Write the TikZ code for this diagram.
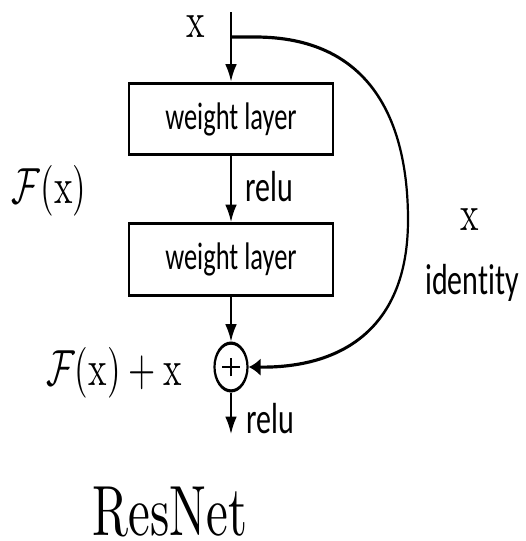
\documentclass[tikz,border=0pt]{standalone}
\usepackage{graphicx}
\usepackage{fontspec}
\setmainfont{lmroman10-regular}[Extension=.otf, BoldFont=lmroman10-bold]
\newfontfamily\sansfnt{Carlito}[Ligatures=NoCommon]
\DeclareFontShape{OMS}{cmsy}{m}{n}{<->cmsy10}{}
\usetikzlibrary{arrows.meta}
\newcommand{\vstretch}[1]{\scalebox{1}[1.45]{#1}}
\tikzset{
  box/.style={draw, line width=2.2pt, minimum width=204pt, minimum height=49.5pt, inner sep=0pt, font=\sansfnt\fontsize{26.5}{29}\selectfont},
  arr/.style={line width=2.2pt, -{Latex[length=12pt,width=12pt]}},
  sumnode/.style={draw, circle, line width=2.2pt, minimum size=33pt, inner sep=0pt},
  serif/.style={inner sep=0pt, font=\fontsize{35}{40}\selectfont},
  sanslab/.style={inner sep=0pt, font=\sansfnt\fontsize{30}{33}\selectfont},
  titlelab/.style={inner sep=0pt, font=\fontsize{49}{52}\selectfont}
}
\begin{document}
\begin{tikzpicture}[x=1pt,y=-1pt]
\useasboundingbox[fill=white] (0,0) rectangle (525,541);
\begin{scope}[transform canvas={yscale=1.45}, y={(0pt,-0.68966pt)}]
  \coordinate (in) at (231,12);
  \coordinate (br) at (231,37);
  \coordinate (brh) at (255,37);
  \node[box] (w1) at (231,119) {weight layer};
  \node[box] (w2) at (231,259.5) {weight layer};
  \node[sumnode] (sum) at (231,367) {};
  \coordinate (out) at (231,434);
  \draw[arr] (in) -- (w1);
  \draw[arr] (w1) -- (w2);
  \draw[arr] (w2) -- (sum);
  \draw[arr] (sum) -- (out);
  \draw[line width=2pt] ([xshift=-9pt]sum.center) -- ([xshift=9pt]sum.center)
        ([yshift=-6.5pt]sum.center) -- ([yshift=6.5pt]sum.center);
  \draw[arr] (br) -- (brh) .. controls (370,37) and (408,120) .. (408,220)
        .. controls (408,330) and (340,368) .. (sum.east);
\end{scope}
\node[serif] (xin) at (196,27) {\vstretch{x}};
\node[serif] (fx) at (49,191) {\vstretch{$\mathcal{F}$(x)}};
\node[serif] (fxx) at (114,373) {\vstretch{$\mathcal{F}$(x)\hspace{0.22em}+\hspace{0.22em}x}};
\node[serif] (xr) at (470,220) {\vstretch{x}};
\node[sanslab] (id) at (472,283) {\vstretch{identity}};
\node[sanslab] (r1) at (269,187) {\vstretch{relu}};
\node[sanslab] (r2) at (270,419) {\vstretch{relu}};
\node[titlelab] (title) at (170,512) {\vstretch{ResNet}};
\end{tikzpicture}
\end{document}
